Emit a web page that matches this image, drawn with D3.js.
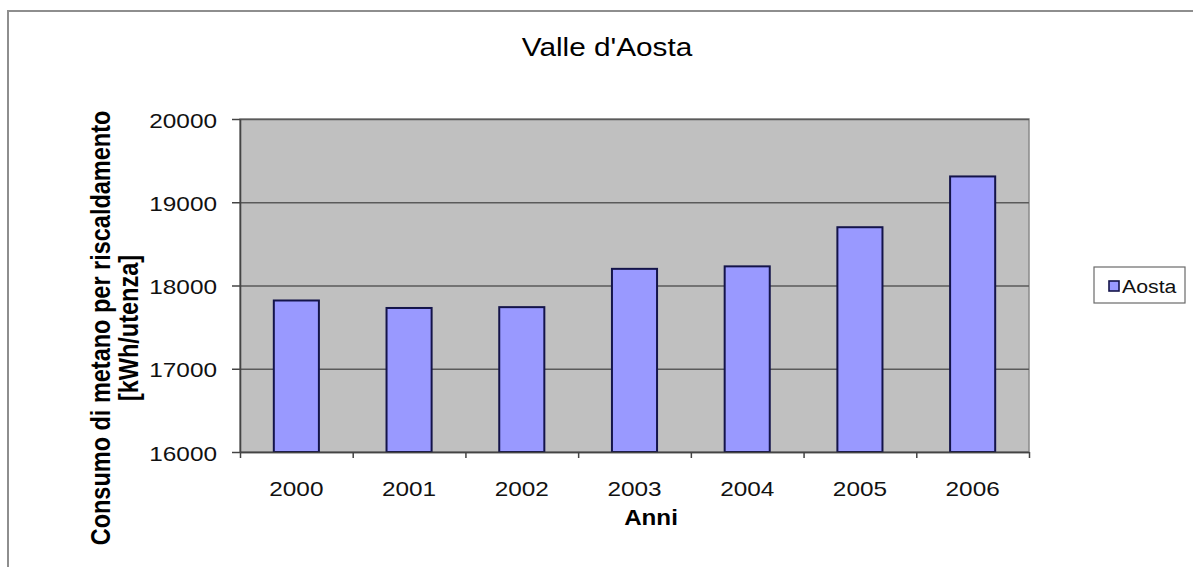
<!DOCTYPE html>
<html>
<head>
<meta charset="utf-8">
<script src="https://cdn.jsdelivr.net/npm/d3@7"></script>
<style>
  html, body { margin: 0; padding: 0; background: #fff; }
  svg { display: block; }
  text { font-family: "Liberation Sans", Arial, sans-serif; fill: #000; }
</style>
</head>
<body>
<svg id="chart" width="1193" height="567"></svg>
<script>
// Consumo di metano per riscaldamento, Valle d'Aosta
const years = ["2000", "2001", "2002", "2003", "2004", "2005", "2006"];
const aosta = [17820, 17730, 17740, 18200, 18230, 18700, 19310];
const yTicks = [16000, 17000, 18000, 19000, 20000];
const seriesName = "Aosta";

const svg = d3.select("#chart");
const W = 1193, H = 567;
const plot = { left: 240, right: 1029, top: 119, bottom: 452 };
const SX = 1.16; // horizontal widening of the lettering

// outer frame (top and left edges visible)
svg.append("path")
  .attr("d", `M7,11 H${W} M8,11 V${H}`)
  .attr("fill", "none").attr("stroke", "#8e8e8e").attr("stroke-width", 2);

const x = d3.scaleBand().domain(years)
  .range([plot.left, plot.right]).paddingInner(0.6).paddingOuter(0.3);
const y = d3.scaleLinear().domain([16000, 20000]).range([plot.bottom, plot.top]);

// plot area
svg.append("rect")
  .attr("x", plot.left).attr("y", plot.top)
  .attr("width", plot.right - plot.left).attr("height", plot.bottom - plot.top)
  .attr("fill", "#c0c0c0").attr("stroke", "#8a8a8a").attr("stroke-width", 1.5);

// horizontal gridlines
svg.append("g")
  .attr("transform", `translate(${plot.left},0)`)
  .call(d3.axisLeft(y).tickValues(yTicks).tickSize(-(plot.right - plot.left)).tickFormat(""))
  .call(g => g.select(".domain").remove())
  .call(g => g.selectAll("line").attr("stroke", "#5a5a5a").attr("stroke-width", 1.6));

// bars
svg.append("g").selectAll("rect")
  .data(years.map((yr, i) => ({ yr, v: aosta[i] })))
  .join("rect")
  .attr("x", d => x(d.yr))
  .attr("y", d => y(d.v))
  .attr("width", x.bandwidth())
  .attr("height", d => y(16000) - y(d.v))
  .attr("fill", "#9999ff")
  .attr("stroke", "#14144a").attr("stroke-width", 2);

// y axis
const yAxis = svg.append("g")
  .attr("transform", `translate(${plot.left},0)`)
  .call(d3.axisLeft(y).tickValues(yTicks).tickSize(8).tickSizeOuter(0).tickFormat(d3.format("d")));
yAxis.select(".domain").attr("stroke", "#444").attr("stroke-width", 1.6);
yAxis.selectAll("line").attr("stroke", "#444").attr("stroke-width", 1.5);
yAxis.selectAll("text")
  .attr("x", -23 / SX).attr("dy", null).attr("y", 8)
  .attr("transform", `scale(${SX},1)`)
  .style("font-size", "21px").style("fill", "#111");

// x axis: tick marks on category boundaries
const xIdx = d3.scaleLinear().domain([0, years.length]).range([plot.left, plot.right]);
const xTickAxis = svg.append("g")
  .attr("transform", `translate(0,${plot.bottom})`)
  .call(d3.axisBottom(xIdx).ticks(years.length).tickSize(6).tickSizeOuter(0).tickFormat(""));
xTickAxis.select(".domain").attr("stroke", "#444").attr("stroke-width", 1.6);
xTickAxis.selectAll("line").attr("stroke", "#444").attr("stroke-width", 1.5);

// x axis: year labels
const xLab = svg.append("g")
  .attr("transform", `translate(0,${plot.bottom})`)
  .call(d3.axisBottom(x).tickSize(0));
xLab.select(".domain").remove();
xLab.selectAll("text")
  .attr("y", 44).attr("dy", null).attr("x", 0)
  .attr("transform", `scale(${SX},1)`)
  .style("font-size", "21px").style("fill", "#111");
xLab.selectAll(".tick")
  .attr("transform", d => `translate(${x(d) + x.bandwidth() / 2},0)`);

// title
svg.append("text")
  .attr("transform", `translate(607,56) scale(1.19,1)`)
  .attr("text-anchor", "middle")
  .style("font-size", "25px")
  .text("Valle d'Aosta");

// x axis title
svg.append("text")
  .attr("transform", `translate(651,525) scale(1.1,1)`)
  .attr("text-anchor", "middle")
  .style("font-size", "22px").style("font-weight", "bold")
  .text("Anni");

// y axis title, two lines
const yTitle = [
  { t: "Consumo di metano per riscaldamento", bx: 110 },
  { t: "[kWh/utenza]", bx: 138 }
];
svg.append("g").selectAll("text")
  .data(yTitle)
  .join("text")
  .attr("transform", d => `translate(${d.bx},328) scale(1.15,1) rotate(-90)`)
  .attr("text-anchor", "middle")
  .style("font-size", "23.5px").style("font-weight", "bold")
  .text(d => d.t);

// legend
const lg = svg.append("g");
lg.append("rect")
  .attr("x", 1094).attr("y", 267).attr("width", 91).attr("height", 36)
  .attr("fill", "#fff").attr("stroke", "#6a6a6a").attr("stroke-width", 1.2);
lg.append("rect")
  .attr("x", 1109).attr("y", 281).attr("width", 10).attr("height", 10)
  .attr("fill", "#9999ff").attr("stroke", "#14144a").attr("stroke-width", 1.6);
lg.append("text")
  .attr("transform", `translate(1122,293) scale(1.12,1)`)
  .style("font-size", "19px").style("fill", "#111")
  .text(seriesName);
</script>
</body>
</html>
